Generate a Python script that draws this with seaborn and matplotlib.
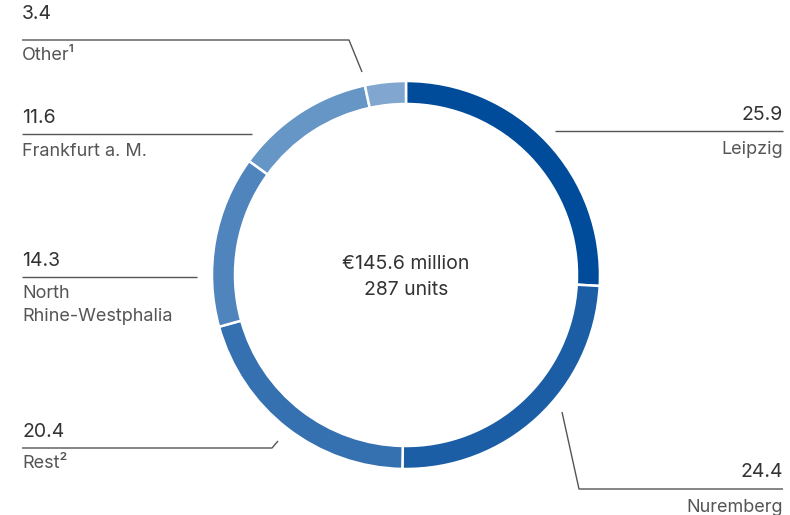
import matplotlib
matplotlib.use("Agg")
import matplotlib.pyplot as plt
import seaborn as sns

# Share of portfolio value by location (%)
locations = ["Leipzig", "Nuremberg", "Rest²", "North\nRhine-Westphalia", "Frankfurt a. M.", "Other¹"]
shares = [25.9, 24.4, 20.4, 14.3, 11.6, 3.4]
colors = ["#004c9a", "#1b5ea6", "#3571b0", "#4f84bd", "#6696c6", "#81a7d0"]
center_lines = ["€145.6 million", "287 units"]

sns.set_theme(style="white")
plt.rcParams["font.family"] = ["Inter", "DejaVu Sans"]

W, H = 790, 515
fig = plt.figure(figsize=(W / 100, H / 100), dpi=100)
ax = fig.add_axes([0, 0, 1, 1])
ax.set_xlim(0, W)
ax.set_ylim(0, H)
ax.set_aspect("equal")
ax.axis("off")


def Y(y):
    # pixel row (from top) to data y
    return H - y


cx, cy, R, ring = 406, 275, 194, 23
ax.pie(shares, colors=colors, startangle=90, counterclock=False,
       center=(cx, Y(cy)), radius=R,
       wedgeprops=dict(width=ring, edgecolor="white", linewidth=1.8))
ax.set_xlim(0, W)
ax.set_ylim(0, H)

for i, t in enumerate(center_lines):
    ax.text(cx, Y(264 + 26 * i), t, ha="center", va="center",
            fontsize=14, color="#333333")

val_kw = dict(fontsize=14, color="#333333", va="center")
lab_kw = dict(fontsize=13, color="#555555", va="center", linespacing=1.4)
line_kw = dict(color="#555555", lw=1.0, solid_capstyle="butt")

# (value index, value y, line path, label y, alignment, text x)
callouts = [
    (5, 14, [(22, 40), (349, 40), (362, 72)], 55, "left", 22),
    (4, 118, [(22, 134), (252, 134)], 152, "left", 22),
    (3, 261, [(22, 277), (197, 277)], 305, "left", 22),
    (2, 432, [(22, 448), (272, 448), (278, 441)], 464, "left", 22),
    (0, 115, [(555, 131), (783, 131)], 150, "right", 783),
    (1, 472, [(562, 412), (579, 489), (783, 489)], 507, "right", 783),
]

for idx, vy, path, ly, ha, tx in callouts:
    xs = [p[0] for p in path]
    ys = [Y(p[1]) for p in path]
    ax.plot(xs, ys, **line_kw)
    ax.text(tx, Y(vy), f"{shares[idx]:.1f}", ha=ha, **val_kw)
    ax.text(tx, Y(ly), locations[idx], ha=ha, **lab_kw)

fig.savefig("out.png", dpi=100, facecolor="white")
